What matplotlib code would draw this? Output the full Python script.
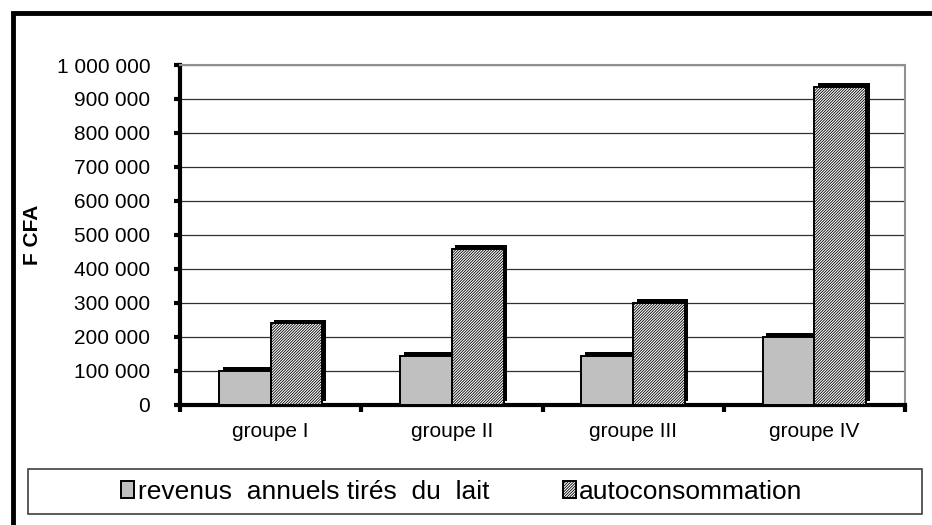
import numpy as np
import matplotlib
matplotlib.use('Agg')
import matplotlib.pyplot as plt
import matplotlib.patheffects as pe
from matplotlib.patches import Rectangle, Patch
from matplotlib.ticker import FuncFormatter, MultipleLocator, FixedLocator

# données
groupes = ['groupe I', 'groupe II', 'groupe III', 'groupe IV']
revenus_lait = [100000, 145000, 145000, 200000]
autoconsommation = [240000, 460000, 300000, 935000]
noms_series = ['revenus  annuels tirés  du  lait', 'autoconsommation']

plt.rcParams['font.family'] = ['Liberation Sans', 'DejaVu Sans']
plt.rcParams['hatch.linewidth'] = 0.6

fig = plt.figure(figsize=(9.32, 5.25), dpi=100)
ax = fig.add_axes([180 / 932, 120 / 525, 725 / 932, 340 / 525])

x = np.arange(len(groupes))
w = 0.285
hachures = '////////////'
ombre = [pe.SimplePatchShadow(offset=(2.6, 2.6), shadow_rgbFace='black', alpha=1.0), pe.Normal()]

b1 = ax.bar(x - w / 2, revenus_lait, w, color='#c0c0c0', edgecolor='black',
            linewidth=1.4, zorder=3)
b2 = ax.bar(x + w / 2, autoconsommation, w, color='white', edgecolor='black',
            hatch=hachures, linewidth=1.4, zorder=3)
for b in list(b1) + list(b2):
    b.set_path_effects(ombre)

ax.set_xlim(-0.5, len(groupes) - 0.5)
ax.set_ylim(0, 1000000)
ax.yaxis.set_major_locator(MultipleLocator(100000))
ax.yaxis.set_major_formatter(FuncFormatter(lambda v, p: f"{int(v):,}".replace(',', ' ')))
ax.grid(axis='y', color='#303030', linewidth=0.9, zorder=0)

ax.set_xticks(x)
ax.set_xticklabels(groupes)
ax.xaxis.set_minor_locator(FixedLocator(np.arange(-0.5, len(groupes), 1.0)))
ax.tick_params(axis='x', which='major', length=0, pad=12, labelsize=15)
ax.tick_params(axis='x', which='minor', length=5, width=3, direction='out')
ax.tick_params(axis='y', length=4, width=3, direction='out', pad=17.5, labelsize=15)

for s in ['left', 'bottom']:
    ax.spines[s].set_linewidth(3)
    ax.spines[s].set_color('black')
for s in ['top', 'right']:
    ax.spines[s].set_linewidth(1.5)
    ax.spines[s].set_color('#909090')

ax.set_ylabel('F CFA', fontweight='bold', fontsize=15)
ax.yaxis.set_label_coords(-0.19, 0.5)

# cadre extérieur (coupé à droite et en bas)
fig.add_artist(Rectangle((13 / 932, -0.1), 1.2, 0.1 + (525 - 13) / 525,
                         transform=fig.transFigure, fill=False,
                         edgecolor='black', linewidth=3.5))

# boîte de légende
fig.add_artist(Rectangle((28 / 932, (525 - 514) / 525), (922 - 28) / 932, 45 / 525,
                         transform=fig.transFigure, fill=False,
                         edgecolor='#404040', linewidth=1.2))
poignees = [Patch(facecolor='#c0c0c0', edgecolor='black', linewidth=1.4),
            Patch(facecolor='white', edgecolor='black', hatch=hachures, linewidth=1.4)]
fig.legend(poignees, noms_series, loc='center', ncol=2,
           bbox_to_anchor=(462 / 932, (525 - 492) / 525), frameon=False,
           fontsize=19, handlelength=0.5, handleheight=0.6, handletextpad=0.12,
           columnspacing=2.8)

fig.savefig('out.png', dpi=100)
